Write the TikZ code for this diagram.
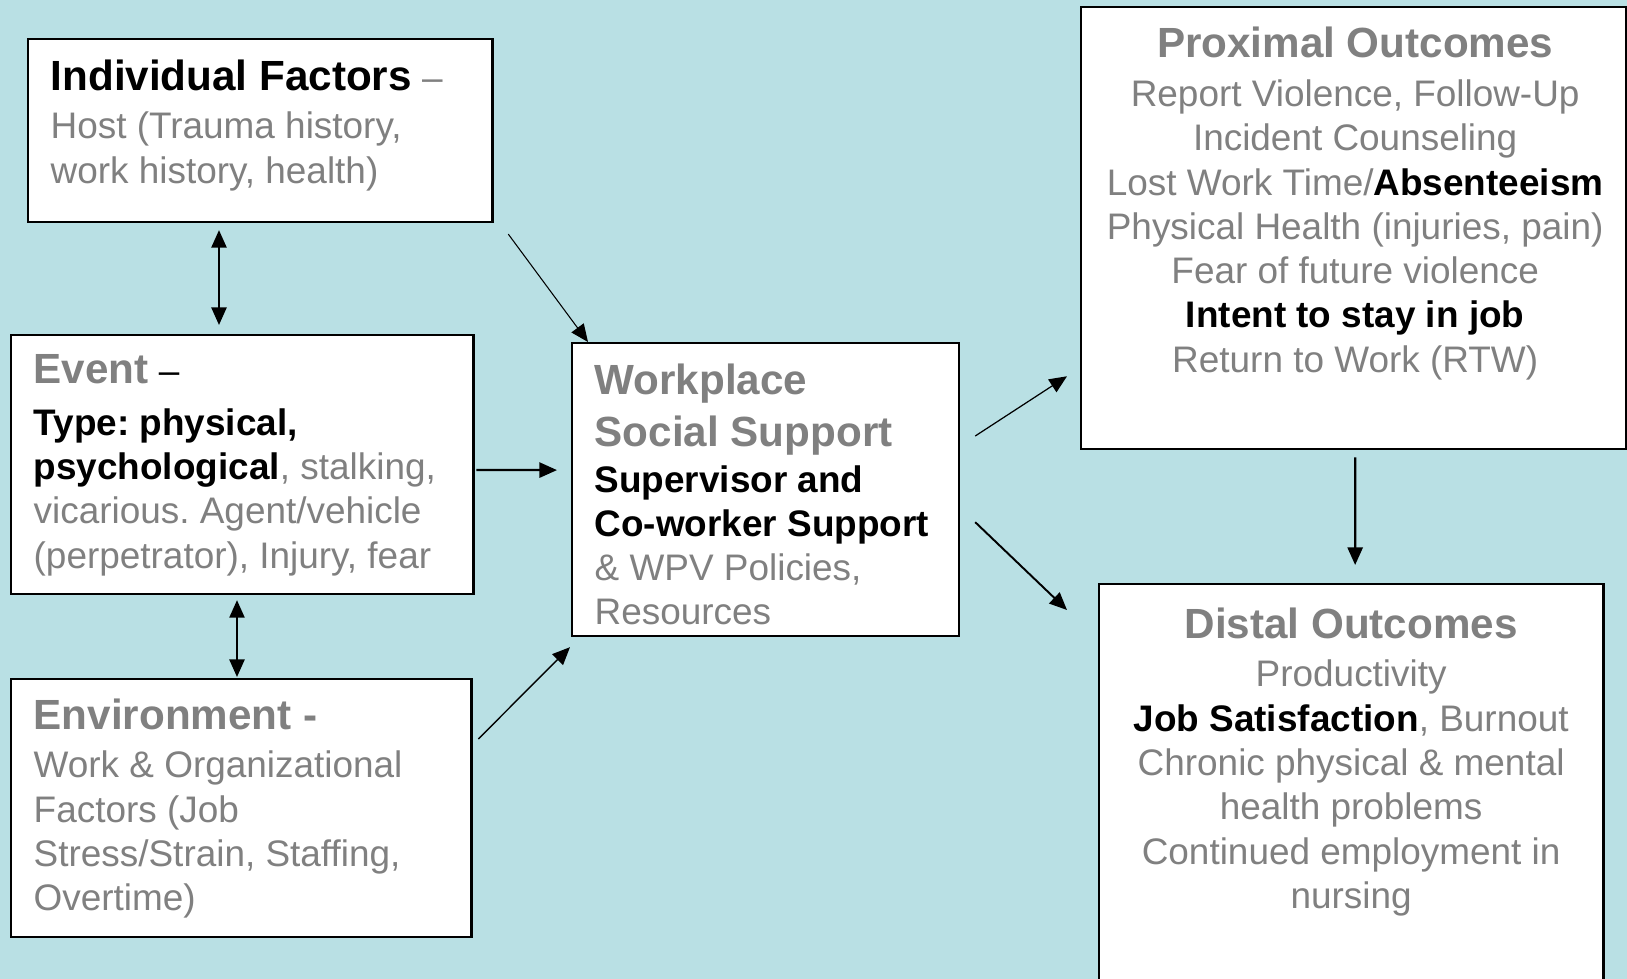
\documentclass[tikz,border=0pt]{standalone}
\usepackage{fontspec}
\setmainfont{Liberation Sans}
\usepackage{tikz}
\usetikzlibrary{arrows.meta}

\definecolor{bgblue}{RGB}{185,224,228}
\definecolor{txtgrey}{RGB}{128,128,128}

% heading and emphasis inside the boxes
\newcommand{\hdr}[1]{{\fontsize{12}{15}\selectfont\bfseries #1}}
\newcommand{\key}[1]{\textcolor{black}{\bfseries #1}}
\frenchspacing

\begin{document}
\begin{tikzpicture}[x=0.01cm,y=-0.01cm]
\tikzstyle{every node}+=[inner sep=0pt]
\tikzstyle{box}=[draw=black, fill=white, line width=0.7pt, outer sep=0pt, anchor=north west]
\tikzstyle{txt}=[font=\fontsize{10.5}{12.6}\selectfont, text=txtgrey]
\tikzstyle{arr}=[-{Triangle[length=5pt,width=4.3pt]}, line width=0.65pt]
\tikzstyle{dbl}=[{Triangle[length=5pt,width=4.3pt]}-{Triangle[length=5pt,width=4.3pt]}, line width=0.6pt]
\useasboundingbox (0,0) rectangle (1627,979);
\fill [bgblue] (0,0) rectangle (1627,979);
% boxes
\node (ind) [box, minimum width=4.64cm, minimum height=1.83cm] at (28,39) {};
\node (evt) [box, minimum width=4.62cm, minimum height=2.59cm] at (11,335) {};
\node (env) [box, minimum width=4.60cm, minimum height=2.58cm] at (11,679) {};
\node (wp) [box, minimum width=3.87cm, minimum height=2.93cm] at (572,343) {};
\node (prox) [box, minimum width=5.45cm, minimum height=4.42cm] at (1081,7) {};
\node (dist) [box, minimum width=5.04cm, minimum height=4.2cm] at (1099,584) {};
% texts
\node (ind-t) [txt, anchor=north west, align=left] at ([shift={(22,20)}]ind.north west)
  {\hdr{\textcolor{black}{Individual Factors}} --\\[1.2pt]
   Host (Trauma history,\\
   work history, health)};
\node (evt-t) [txt, anchor=north west, align=left] at ([shift={(22,19)}]evt.north west)
  {\hdr{Event} \textcolor{black}{--}\\[2pt]
   \key{Type: physical,}\\
   \key{psychological}, stalking,\\
   vicarious. Agent/vehicle\\
   (perpetrator), Injury, fear};
\node (env-t) [txt, anchor=north west, align=left] at ([shift={(22,19)}]env.north west)
  {\hdr{Environment -}\\[1.2pt]
   Work \& Organizational\\
   Factors (Job\\
   Stress/Strain, Staffing,\\
   Overtime)};
\node (wp-t) [txt, anchor=north west, align=left] at ([shift={(22,20)}]wp.north west)
  {\hdr{Workplace}\\[2.3pt]
   \hdr{Social Support}\\[0.3pt]
   \key{Supervisor and}\\
   \key{Co-worker Support}\\
   \& WPV Policies,\\
   Resources};
\node (prox-t) [txt, anchor=north, align=center] at ([shift={(1.5,19.6)}]prox.north)
  {\hdr{Proximal Outcomes}\\[1.2pt]
   Report Violence, Follow-Up\\
   Incident Counseling\\
   Lost Work Time/\key{Absenteeism}\\
   Physical Health (injuries, pain)\\
   Fear of future violence\\
   \key{Intent to stay in job}\\
   Return to Work (RTW)};
\node (dist-t) [txt, anchor=north, align=center] at ([shift={(0,23)}]dist.north)
  {\hdr{Distal Outcomes}\\[1.2pt]
   Productivity\\
   \key{Job Satisfaction}, Burnout\\
   Chronic physical \& mental\\
   health problems\\
   Continued employment in\\
   nursing};
% connectors
\draw [dbl] ([shift={(191,8)}]ind.south west) -- ([shift={(208,-10)}]evt.north west);
\draw [dbl] ([shift={(226,6)}]evt.south west) -- ([shift={(226,-2)}]env.north west);
\draw [arr] ([shift={(3,5.5)}]evt.east) -- ([shift={(-15,-19.5)}]wp.west);
\draw [arr, line width=0.3pt] ([shift={(16,12)}]ind.south east) -- ([shift={(16,-1)}]wp.north west);
\draw [arr, line width=0.4pt] ([shift={(7,60)}]env.north east) -- ([shift={(-2,11)}]wp.south west);
\draw [arr, line width=0.35pt] ([shift={(16,93)}]wp.north east) -- ([shift={(-14,-73)}]prox.south west);
\draw [arr, line width=0.55pt] ([shift={(16,-114)}]wp.south east) -- ([shift={(-32,26)}]dist.north west);
\draw [arr] ([shift={(1.5,8)}]prox.south) -- ([shift={(4,-19)}]dist.north);
\end{tikzpicture}
\end{document}
